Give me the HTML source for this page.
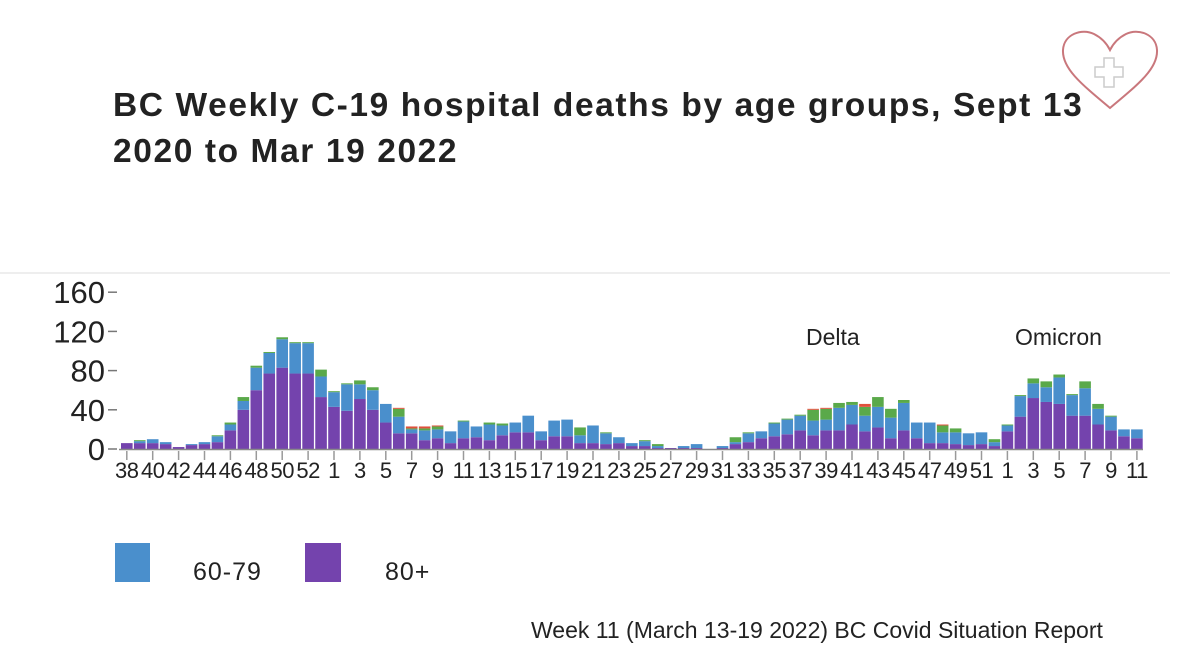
<!DOCTYPE html>
<html><head><meta charset="utf-8">
<style>
html,body{margin:0;padding:0;background:#fff;}
body{width:1200px;height:672px;position:relative;overflow:hidden;font-family:"Liberation Sans",sans-serif;}
.t{position:absolute;margin:0;white-space:nowrap;}
</style></head>
<body>
<div class="t" style="left:113px;top:83px;font-size:33.5px;font-weight:bold;color:#222;line-height:46px;letter-spacing:1.6px;">BC Weekly C-19 hospital deaths by age groups, Sept 13<br>2020 to Mar 19 2022</div>
<div style="position:absolute;left:0;top:272px;width:1170px;height:2px;background:#eee;"></div>
<svg style="position:absolute;left:1060px;top:28px" width="100" height="82" viewBox="0 0 100 82">
<path d="M50 80 C20 55 2 40 3 22 C4 6 22 0 34 6 C42 10 47 16 50 22 C53 16 58 10 66 6 C78 0 96 6 97 22 C98 40 80 55 50 80Z" fill="none" stroke="#c9777c" stroke-width="2"/>
<path d="M44 30h10v9h9v10h-9v10h-10v-10h-9v-10h9z" fill="none" stroke="#ccc" stroke-width="1.5"/>
</svg>
<svg id="chart" style="position:absolute;left:0;top:0" width="1200" height="672"></svg>
<div class="t" style="left:806px;top:324px;font-size:23px;color:#222;">Delta</div>
<div class="t" style="left:1015px;top:324px;font-size:23px;color:#222;">Omicron</div>
<div style="position:absolute;left:115px;top:543px;width:35px;height:39px;background:#4a8fcc;"></div>
<div class="t" style="left:193px;top:558px;font-size:25px;letter-spacing:1px;color:#222;">60-79</div>
<div style="position:absolute;left:305px;top:543px;width:36px;height:39px;background:#7443ad;"></div>
<div class="t" style="left:385px;top:558px;font-size:25px;letter-spacing:1px;color:#222;">80+</div>
<div class="t" style="left:531px;top:617px;font-size:23px;color:#222;">Week 11 (March 13-19 2022) BC Covid Situation Report</div>
<script>
const weeks=[38,39,40,41,42,43,44,45,46,47,48,49,50,51,52,53,1,2,3,4,5,6,7,8,9,10,11,12,13,14,15,16,17,18,19,20,21,22,23,24,25,26,27,28,29,30,31,32,33,34,35,36,37,38,39,40,41,42,43,44,45,46,47,48,49,50,51,52,1,2,3,4,5,6,7,8,9,10,11];
const s80=[6,6,6,5,2,4,5,7,19,40,60,77,83,77,77,53,43,39,51,40,27,16,16,9,11,6,11,12,9,14,17,17,9,13,13,6,6,5,6,3,3,1,1,1,1,0,1,5,7,11,13,15,19,14,19,19,25,18,22,11,19,11,6,6,5,4,5,3,18,33,52,48,46,34,34,25,19,13,11];
const s6079=[0,2,4,2,0,1,2,6,6,9,23,21,29,31,31,21,15,27,15,20,19,17,4,10,9,12,17,11,16,10,10,17,9,16,17,8,18,11,6,3,5,2,0,2,4,0,2,2,9,7,13,15,15,15,11,23,20,16,21,21,28,16,21,11,12,12,12,4,6,21,15,15,27,21,28,16,14,7,9];
const sOther=[0,1,0,0,0,0,0,1,2,4,2,1,2,1,1,7,1,1,4,3,0,8,1,2,3,0,1,0,2,2,0,0,0,0,0,8,0,1,0,0,1,2,0,0,0,0,0,5,1,0,1,1,1,11,11,5,3,9,10,9,3,0,0,7,4,0,0,3,1,1,5,6,3,1,7,5,1,0,0];
const sYoung=[0,0,0,0,0,0,0,0,0,0,0,0,0,0,0,0,0,0,0,0,0,1,2,2,1,0,0,0,0,0,0,0,0,0,0,0,0,0,0,0,0,0,0,0,0,0,0,0,0,0,0,0,0,1,1,0,0,3,0,0,0,0,0,1,0,0,0,0,0,0,0,0,0,0,0,0,0,0,0];
const yTicks=[0,40,80,120,160];
const svg=document.getElementById('chart');
const NS='http://www.w3.org/2000/svg';
const x0=121,step=12.95,bw=11.6,y0=449,ppu=0.98;
const X=i=>x0+i*step;
const Y=v=>y0-v*ppu;
function mk(t,a){const e=document.createElementNS(NS,t);for(const k in a)e.setAttribute(k,a[k]);svg.appendChild(e);return e;}
yTicks.forEach(v=>{
  const t=mk('text',{x:105,y:Y(v)+11,'text-anchor':'end','font-size':31,fill:'#222','font-family':'Liberation Sans, sans-serif'});
  t.textContent=v;
  
  
  const l=mk('line',{x1:108,x2:117,y1:Y(v),y2:Y(v),stroke:'#777','stroke-width':1.5});
  
  
});
const cols=['#7443ad','#4a8fcc','#5aa94a','#e0503c'];
const series=[s80,s6079,sOther,sYoung];
weeks.forEach((w,i)=>{
  let acc=0;
  series.forEach((s,k)=>{
    const v=s[i];if(v<=0)return;
    const r=mk('rect',{x:X(i),y:Y(acc+v),width:bw,height:v*ppu,fill:cols[k]});
    
    
    acc+=v;
  });
  if(i%2==0){
    const tk=mk('line',{x1:X(i)+bw/2,x2:X(i)+bw/2,y1:451,y2:460,stroke:'#999','stroke-width':1.5});
    
    
    const t=mk('text',{x:X(i)+bw/2,y:478,'text-anchor':'middle','font-size':22,'letter-spacing':-0.5,fill:'#222','font-family':'Liberation Sans, sans-serif'});
    t.textContent=w;
    
    
  }
});
const ax=mk('line',{x1:119,x2:1143,y1:449.5,y2:449.5,stroke:'#888','stroke-width':1.5});


</script>
</body></html>
